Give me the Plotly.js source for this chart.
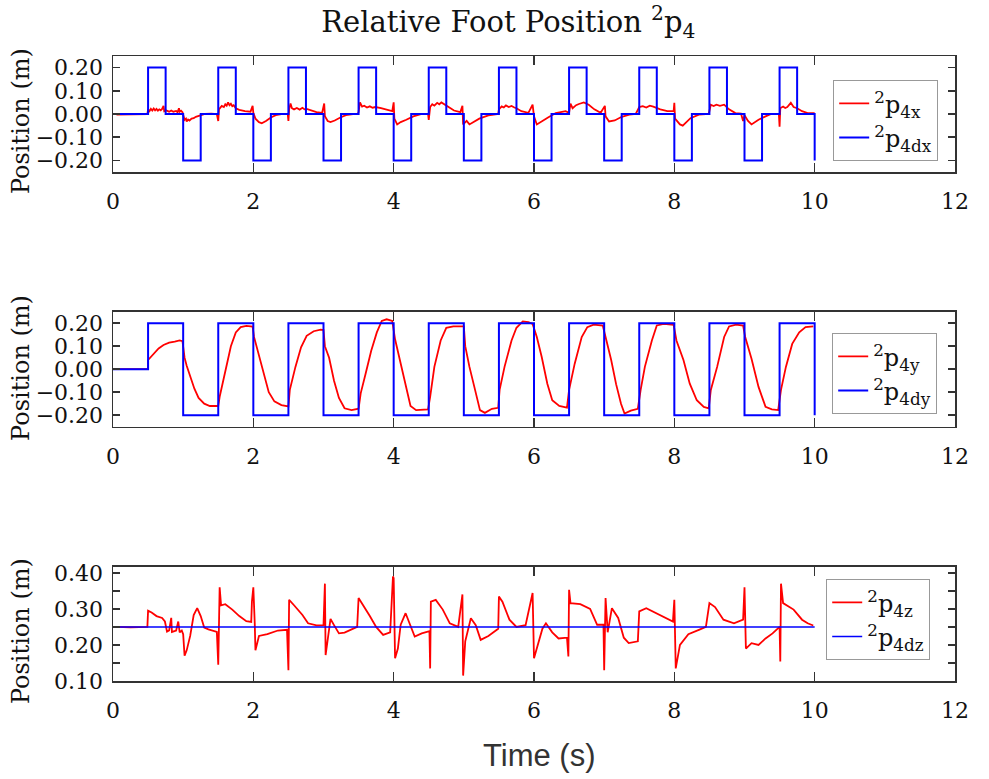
<!DOCTYPE html>
<html>
<head>
<meta charset="utf-8">
<script src="https://cdn.plot.ly/plotly-3.0.1.min.js"></script>
<style>html,body{margin:0;padding:0;background:#fff;}#chart{width:989px;height:779px;}</style>
</head>
<body>
<div id="chart"></div>
<script>
// ---------- data ----------
// desired x (step, hv)
const tDX = [0,0.5,0.75,1.0,1.25,1.5,1.75,2.0,2.25,2.5,2.75,3.0,3.25,3.5,3.75,4.0,4.25,4.5,4.75,5.0,5.25,5.5,5.75,6.0,6.25,6.5,6.75,7.0,7.25,7.5,7.75,8.0,8.25,8.5,8.75,9.0,9.25,9.5,9.75,10.0,10.0];
const vDX = [0,0.2,0,-0.2,0,0.2,0,-0.2,0,0.2,0,-0.2,0,0.2,0,-0.2,0,0.2,0,-0.2,0,0.2,0,-0.2,0,0.2,0,-0.2,0,0.2,0,-0.2,0,0.2,0,-0.2,0,0.2,0,0,-0.2];
// desired y (step, hv)
const tDY = [0,0.5,1.0,1.5,2.0,2.5,3.0,3.5,4.0,4.5,5.0,5.5,6.0,6.5,7.0,7.5,8.0,8.5,9.0,9.5,10.0,10.0];
const vDY = [0,0.2,-0.2,0.2,-0.2,0.2,-0.2,0.2,-0.2,0.2,-0.2,0.2,-0.2,0.2,-0.2,0.2,-0.2,0.2,-0.2,0.2,0.2,-0.2];
// desired z
const tDZ = [0,10];
const vDZ = [0.25,0.25];

// measured x
const tX = [0.05,0.15,0.25,0.35,0.49,0.5,0.52,0.54,0.56,0.58,0.6,0.62,0.64,0.66,0.68,0.7,0.72,0.73,0.76,0.8,0.83,0.86,0.9,0.92,0.94,0.95,0.97,0.99,1.0,1.02,1.04,1.05,1.07,1.09,1.12,1.15,1.18,1.22,1.25,1.31,1.4,1.48,1.5,1.51,1.55,1.58,1.6,1.62,1.64,1.66,1.68,1.7,1.72,1.75,1.8,1.88,1.96,1.99,2.0,2.03,2.08,2.12,2.18,2.25,2.32,2.4,2.49,2.5,2.51,2.53,2.55,2.58,2.62,2.66,2.7,2.73,2.76,2.8,2.9,2.98,3.01,3.02,3.06,3.1,3.16,3.24,3.32,3.42,3.49,3.5,3.52,3.55,3.58,3.62,3.66,3.7,3.74,3.82,3.9,3.98,4.0,4.01,4.05,4.1,4.18,4.28,4.4,4.49,4.5,4.52,4.55,4.58,4.62,4.65,4.68,4.72,4.78,4.86,4.95,4.98,4.99,5.04,5.08,5.14,5.22,5.35,5.49,5.5,5.54,5.57,5.6,5.64,5.68,5.72,5.75,5.82,5.92,5.98,6.0,6.04,6.1,6.2,6.31,6.45,6.5,6.52,6.55,6.6,6.64,6.68,6.71,6.78,6.86,6.95,7.01,7.02,7.07,7.15,7.25,7.36,7.45,7.5,7.55,7.6,7.65,7.7,7.8,7.9,7.99,8.0,8.01,8.08,8.12,8.23,8.35,8.49,8.52,8.56,8.6,8.65,8.71,8.78,8.87,8.95,8.98,9.0,9.05,9.1,9.2,9.3,9.38,9.49,9.5,9.51,9.55,9.58,9.61,9.66,9.7,9.75,9.82,9.9,10.0];
const vX = [-0.003,-0.002,-0.003,-0.001,0.0,0.02,0.012,0.022,0.015,0.024,0.016,0.022,0.014,0.02,0.016,0.022,0.035,0.012,0.015,0.01,0.015,0.01,0.013,0.008,0.025,0.01,0.014,0.008,-0.005,-0.025,-0.02,-0.032,-0.024,-0.028,-0.02,-0.018,-0.012,-0.008,-0.005,0.0,0.001,0.0,-0.03,0.02,0.035,0.03,0.042,0.036,0.05,0.038,0.044,0.034,0.038,0.025,0.018,0.012,0.01,0.035,0.005,-0.02,-0.035,-0.04,-0.03,-0.015,-0.005,0.0,0.0,-0.03,0.02,0.045,0.025,0.02,0.026,0.019,0.027,0.02,0.022,0.018,0.008,0.005,0.045,-0.01,-0.03,-0.035,-0.028,-0.015,-0.005,0.0,0.0,0.01,0.05,0.032,0.036,0.028,0.033,0.027,0.03,0.025,0.018,0.012,0.05,-0.02,-0.045,-0.035,-0.025,-0.01,0.0,0.0,-0.025,0.03,0.042,0.036,0.048,0.042,0.05,0.042,0.03,0.015,0.008,0.035,-0.045,-0.03,-0.045,-0.035,-0.02,-0.006,0.0,0.02,0.033,0.028,0.037,0.03,0.035,0.028,0.025,0.012,0.005,0.04,-0.01,-0.045,-0.033,-0.015,0.004,0.012,0.005,0.045,0.025,0.038,0.043,0.046,0.05,0.04,0.02,0.005,0.035,-0.01,-0.032,-0.028,-0.012,-0.003,0.0,0.03,0.034,0.028,0.036,0.032,0.02,0.012,0.012,0.048,-0.02,-0.045,-0.05,-0.018,-0.003,0.0,0.04,0.034,0.04,0.035,0.04,0.02,0.004,0.002,-0.03,-0.005,-0.03,-0.045,-0.025,-0.01,0.0,0.0,-0.055,0.025,0.032,0.026,0.03,0.048,0.03,0.025,0.012,0.004,0.004];

// measured y
const tY = [0.05,0.5,0.5,0.53,0.58,0.65,0.72,0.8,0.88,0.95,0.99,1.02,1.05,1.1,1.16,1.22,1.3,1.38,1.47,1.5,1.52,1.56,1.62,1.68,1.75,1.82,1.9,1.99,2.01,2.08,2.15,2.22,2.3,2.4,2.5,2.52,2.6,2.68,2.76,2.86,2.96,3.0,3.02,3.08,3.15,3.22,3.3,3.4,3.5,3.53,3.6,3.68,3.76,3.83,3.9,3.98,4.02,4.1,4.17,4.24,4.32,4.49,4.52,4.58,4.67,4.75,4.85,5.0,5.02,5.08,5.16,5.23,5.3,5.4,5.49,5.51,5.58,5.68,5.75,5.84,5.92,5.98,6.04,6.11,6.19,6.26,6.36,6.47,6.5,6.58,6.68,6.76,6.85,6.98,7.02,7.1,7.17,7.24,7.29,7.38,7.48,7.52,7.58,7.68,7.75,7.85,7.99,8.03,8.13,8.22,8.32,8.42,8.49,8.52,8.61,8.71,8.78,8.88,8.98,9.01,9.1,9.2,9.3,9.39,9.48,9.52,9.59,9.68,9.78,9.87,9.98];
const vY = [0,0,0.04,0.05,0.07,0.09,0.105,0.115,0.12,0.125,0.122,0.05,0.015,-0.035,-0.085,-0.125,-0.15,-0.16,-0.162,-0.16,-0.12,-0.065,0.02,0.1,0.16,0.183,0.188,0.185,0.14,0.06,-0.03,-0.1,-0.14,-0.156,-0.162,-0.09,0.01,0.095,0.145,0.165,0.172,0.17,0.1,0.05,-0.05,-0.125,-0.17,-0.178,-0.172,-0.105,-0.02,0.08,0.16,0.21,0.217,0.21,0.13,0.025,-0.075,-0.16,-0.178,-0.175,-0.12,0.01,0.125,0.18,0.186,0.186,0.1,0.01,-0.09,-0.178,-0.19,-0.172,-0.168,-0.09,0.01,0.125,0.18,0.208,0.205,0.197,0.14,0.053,-0.063,-0.135,-0.16,-0.167,-0.09,0.024,0.14,0.183,0.194,0.19,0.14,0.04,-0.065,-0.15,-0.193,-0.18,-0.172,-0.09,0.01,0.125,0.19,0.197,0.193,0.125,0.04,-0.063,-0.135,-0.164,-0.17,-0.09,0.01,0.14,0.186,0.194,0.19,0.14,0.045,-0.077,-0.164,-0.175,-0.178,-0.09,0.01,0.11,0.16,0.183,0.186];

// measured z
const tZ = [0.05,0.25,0.49,0.5,0.55,0.62,0.7,0.74,0.77,0.8,0.83,0.84,0.9,0.93,0.95,0.98,1.0,1.02,1.05,1.1,1.15,1.2,1.25,1.3,1.36,1.42,1.48,1.5,1.52,1.54,1.6,1.7,1.8,1.9,1.97,1.98,2.0,2.02,2.03,2.08,2.2,2.35,2.48,2.5,2.51,2.58,2.7,2.78,2.9,3.0,3.02,3.03,3.07,3.1,3.15,3.22,3.3,3.4,3.48,3.5,3.58,3.66,3.75,3.85,3.95,3.99,4.0,4.02,4.06,4.1,4.17,4.23,4.3,4.4,4.51,4.52,4.53,4.6,4.7,4.8,4.92,4.98,4.99,5.02,5.1,5.17,5.24,5.35,5.49,5.5,5.55,5.65,5.75,5.88,5.98,6.0,6.04,6.12,6.17,6.26,6.35,6.47,6.49,6.5,6.52,6.66,6.8,6.9,6.99,7.0,7.02,7.05,7.11,7.2,7.28,7.35,7.48,7.5,7.6,7.75,7.9,7.98,8.0,8.02,8.08,8.2,8.35,8.45,8.5,8.58,8.7,8.85,8.98,9.0,9.02,9.1,9.2,9.3,9.4,9.5,9.51,9.52,9.55,9.7,9.82,9.9,9.98];
const vZ = [0.25,0.249,0.25,0.295,0.29,0.28,0.275,0.265,0.237,0.24,0.275,0.236,0.24,0.265,0.235,0.24,0.23,0.17,0.185,0.225,0.283,0.302,0.28,0.248,0.243,0.24,0.236,0.145,0.36,0.31,0.313,0.298,0.28,0.266,0.264,0.32,0.36,0.26,0.185,0.225,0.23,0.24,0.242,0.13,0.325,0.31,0.283,0.26,0.254,0.255,0.37,0.172,0.23,0.272,0.255,0.232,0.234,0.242,0.25,0.33,0.306,0.28,0.25,0.228,0.235,0.39,0.385,0.163,0.19,0.256,0.288,0.256,0.223,0.232,0.238,0.135,0.32,0.325,0.298,0.26,0.25,0.34,0.115,0.21,0.274,0.255,0.214,0.225,0.245,0.334,0.32,0.27,0.25,0.255,0.344,0.163,0.19,0.245,0.26,0.235,0.218,0.22,0.168,0.353,0.316,0.313,0.3,0.256,0.256,0.13,0.33,0.235,0.302,0.275,0.22,0.205,0.21,0.293,0.302,0.288,0.274,0.265,0.325,0.135,0.2,0.23,0.242,0.25,0.316,0.305,0.27,0.26,0.27,0.36,0.19,0.205,0.2,0.218,0.232,0.25,0.154,0.37,0.316,0.298,0.27,0.26,0.254];

const xTicks = [0,2,4,6,8,10,12];
const yTicksXY = [-0.2,-0.1,0,0.1,0.2];
const yTicksZ = [0.1,0.2,0.3,0.4];
const names = {
  x: ['<sup>2</sup>p<sub>4x</sub>','<sup>2</sup>p<sub>4dx</sub>'],
  y: ['<sup>2</sup>p<sub>4y</sub>','<sup>2</sup>p<sub>4dy</sub>'],
  z: ['<sup>2</sup>p<sub>4z</sub>','<sup>2</sup>p<sub>4dz</sub>']
};

// ---------- styling ----------
const SERIF = 'DejaVu Serif, serif';
const RED = '#ff0000', BLUE = '#0000ff';

const traces = [
  {x:tX, y:vX, mode:'lines', name:names.x[0], line:{color:RED,width:1.8}, xaxis:'x', yaxis:'y', legend:'legend'},
  {x:tDX, y:vDX, mode:'lines', name:names.x[1], line:{color:BLUE,width:2,shape:'hv'}, xaxis:'x', yaxis:'y', legend:'legend'},
  {x:tY, y:vY, mode:'lines', name:names.y[0], line:{color:RED,width:1.8}, xaxis:'x2', yaxis:'y2', legend:'legend2'},
  {x:tDY, y:vDY, mode:'lines', name:names.y[1], line:{color:BLUE,width:2,shape:'hv'}, xaxis:'x2', yaxis:'y2', legend:'legend2'},
  {x:tZ, y:vZ, mode:'lines', name:names.z[0], line:{color:RED,width:1.8}, xaxis:'x3', yaxis:'y3', legend:'legend3'},
  {x:tDZ, y:vDZ, mode:'lines', name:names.z[1], line:{color:BLUE,width:1.5}, xaxis:'x3', yaxis:'y3', legend:'legend3'}
];

function xax(anchor){
  return {
    anchor: anchor, domain:[0,1], range:[0,12], tickmode:'array', tickvals:xTicks,
    ticks:'inside', ticklen:9, tickwidth:1.5, tickcolor:'#333', mirror:'allticks',
    showline:true, linecolor:'#333', linewidth:1.5, showgrid:false, zeroline:false, automargin:false,
    ticklabelstandoff:9, tickfont:{family:SERIF,size:22,color:'#111'}
  };
}
function yax(anchor, dom, rng, vals, minor){
  const a = {
    anchor: anchor, domain:dom, range:rng, tickmode:'array', tickvals:vals, tickformat:'.2f',
    ticks:'inside', ticklen:7, tickwidth:1.5, tickcolor:'#333', mirror:'allticks',
    showline:true, linecolor:'#333', linewidth:1.5, showgrid:false, zeroline:false, automargin:false,
    ticklabelstandoff:4, tickfont:{family:SERIF,size:22,color:'#111'}
  };
  if (minor) a.minor = {dtick:0.05, tick0:0, ticks:'inside', ticklen:7, tickwidth:1.5, tickcolor:'#333', showgrid:false};
  return a;
}
function leg(x, y){
  return {x:x, y:y, xref:'paper', yref:'paper', xanchor:'left', yanchor:'top',
    bgcolor:'#fff', bordercolor:'#999', borderwidth:1.2,
    font:{family:SERIF,size:24,color:'#111'}, itemwidth:30, tracegroupgap:0};
}
function ytitle(yc){
  return {text:'Position (m)', xref:'paper', yref:'paper', x:-0.1093, y:yc, xanchor:'center', yanchor:'middle',
    textangle:-90, showarrow:false, font:{family:SERIF,size:24,color:'#111'}};
}

const layout = {
  width:989, height:779, paper_bgcolor:'#fff', plot_bgcolor:'#fff',
  margin:{l:113, r:34, t:56, b:98, autoexpand:false}, showlegend:true,
  title:{text:'Relative Foot Position <sup>2</sup>p<sub>4</sub>', x:0.514, xref:'container', xanchor:'center',
    y:1-22/779, yref:'container', yanchor:'middle', font:{family:SERIF,size:29,color:'#111'}},
  xaxis: xax('y'), xaxis2: xax('y2'), xaxis3: xax('y3'),
  yaxis: yax('x', [0.8144,1.0], [-0.25,0.25], yTicksXY, false),
  yaxis2: yax('x2', [0.4069,0.5909], [-0.25,0.25], yTicksXY, false),
  yaxis3: yax('x3', [0,0.1829], [0.1,0.417], yTicksZ, true),
  legend: leg(0.8551, 0.9616), legend2: leg(0.8539, 0.5568), legend3: leg(0.8468, 0.1632),
  annotations:[
    ytitle(0.8958), ytitle(0.5008), ytitle(0.0798),
    {text:'Time (s)', xref:'paper', yref:'paper', x:0.5071, y:-0.1184, xanchor:'center', yanchor:'middle',
     showarrow:false, font:{family:'Liberation Sans, Arial, sans-serif', size:31, color:'#333'}}
  ]
};

Plotly.newPlot('chart', traces, layout, {staticPlot:true, displayModeBar:false});
</script>
</body>
</html>
